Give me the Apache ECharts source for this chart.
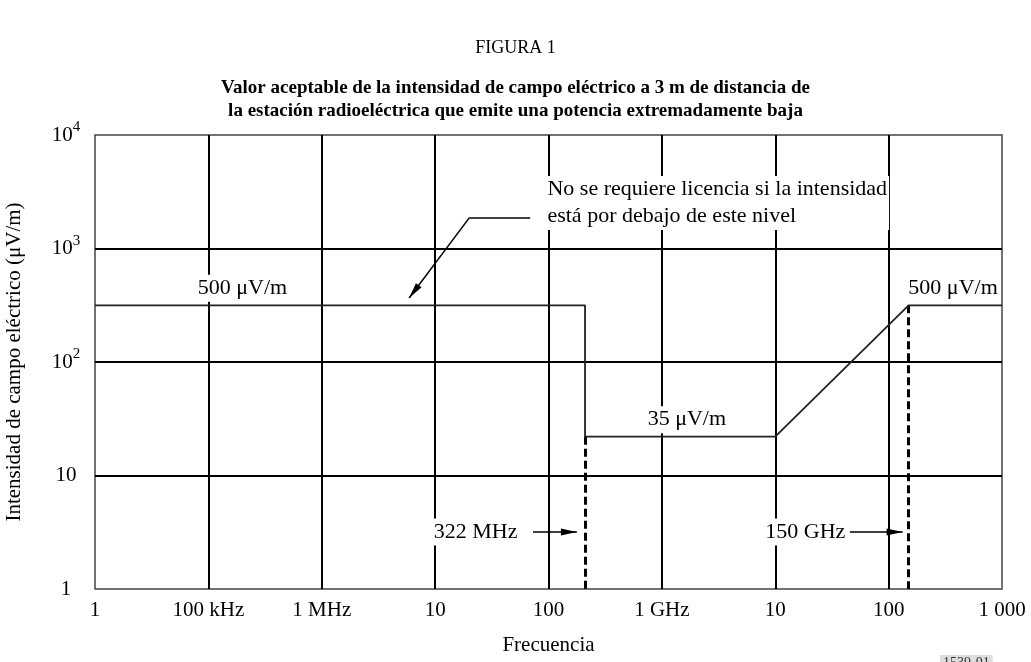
<!DOCTYPE html>
<html>
<head>
<meta charset="utf-8">
<script src="https://cdn.jsdelivr.net/npm/echarts@6/dist/echarts.min.js"></script>
<style>
html, body { margin: 0; padding: 0; background: #fff; }
#main { width: 1031px; height: 662px; }
</style>
</head>
<body>
<div id="main"></div>
<script>
var FONT = '"Liberation Serif", "Times New Roman", serif';

// limit curve: frequency (Hz) / field strength (uV/m)
var freqHz  = [1e4, 2.1e8, 2.1e8, 1e10, 1.5e11, 1e12];
var fieldUV = [316, 316, 22, 22, 316, 316];

// dashed markers down to the axis
var markFreq  = [2.1e8, 1.5e11];
var markLevel = [22, 316];

// axis ticks
var xTicks      = [1e4, 1e5, 1e6, 1e7, 1e8, 1e9, 1e10, 1e11, 1e12];
var xTickLabels = ['1', '100 kHz', '1 MHz', '10', '100', '1 GHz', '10', '100', '1 000'];
var yTicks      = [1, 10, 100, 1000, 10000];
var yTickLabels = ['1', '10', '{b|10}{s|2}', '{b|10}{s|3}', '{b|10}{s|4}'];

// texts on the plot
var noteText   = ['No se requiere licencia si la intensidad', 'está por debajo de este nivel'];
var noteLeader = [[6.9e7, 1860], [2.0e7, 1860]];
var noteArrow  = [[2.0e7, 1860], [5.9e6, 366]];
var arrow322   = [[7.3e7, 3.18], [1.78e8, 3.18]];
var arrow150   = [[4.55e10, 3.18], [1.33e11, 3.18]];

var annot = [
	{ text: '500 μV/m', f: 2.0e5,   v: 316,  pos: 'top' },
	{ text: '35 μV/m',  f: 1.66e9,  v: 22,   pos: 'top' },
	{ text: '500 μV/m', f: 3.7e11,  v: 316,  pos: 'top' },
	{ text: '322 MHz',  f: 5.6e7,   v: 3.18, pos: 'left' },
	{ text: '150 GHz',  f: 4.37e10, v: 3.18, pos: 'left' },
	{ text: noteText.join('\n'), f: 9.3e7, v: 2520, pos: 'right' }
];

// slim filled arrow head, tip at the centre of a padded square box
var ARROW = 'path://M10,10 L12.2,20 L7.8,20 Z M0,0 L0.01,0 Z M20,0 L19.99,0 Z';

var lineData = [];
for (var i = 0; i < freqHz.length; i++) {
	lineData.push([freqHz[i], fieldUV[i]]);
}

var dashData = [];
for (var i = 0; i < markFreq.length; i++) {
	dashData.push({ coords: [[markFreq[i], markLevel[i]], [markFreq[i], 1]] });
}

var annotData = annot.map(function (a) {
	return {
		value: [a.f, a.v],
		label: {
			show: true,
			position: a.pos,
			distance: a.pos == 'top' ? 3 : 0,
			formatter: a.text,
			align: a.pos == 'right' ? 'left' : (a.pos == 'left' ? 'right' : 'center'),
			lineHeight: 27
		}
	};
});

var myChart = echarts.init(document.getElementById('main'));
var option = {
	backgroundColor: '#fff',
	animation: false,
	title: [
		{ text: 'FIGURA 1', left: 'center', top: 34,
		  textStyle: { fontFamily: FONT, fontSize: 18, fontWeight: 'normal', color: '#000' } },
		{ text: 'Valor aceptable de la intensidad de campo eléctrico a 3 m de distancia de', left: 'center', top: 74,
		  textStyle: { fontFamily: FONT, fontSize: 19, fontWeight: 'bold', color: '#000' } },
		{ text: 'la estación radioeléctrica que emite una potencia extremadamente baja', left: 'center', top: 97,
		  textStyle: { fontFamily: FONT, fontSize: 19, fontWeight: 'bold', color: '#000' } }
	],
	grid: {
		left: 95, right: 29, top: 135, bottom: 73,
		outerBoundsMode: 'none', containLabel: false,
		show: true, borderColor: '#444', borderWidth: 1.5
	},
	xAxis: {
		type: 'log', logBase: 10, min: 1e4, max: 1e12, splitNumber: 8,
		name: 'Frecuencia', nameLocation: 'middle', nameGap: 46,
		nameTextStyle: { fontFamily: FONT, fontSize: 21, color: '#000' },
		axisLine: { show: false }, axisTick: { show: false },
		axisLabel: {
			fontFamily: FONT, fontSize: 21, color: '#000', margin: 11,
			showMinLabel: true, showMaxLabel: true,
			formatter: function (val) {
				var k = Math.round(Math.log10(val)) - 4;
				return xTickLabels[k] != null ? xTickLabels[k] : '';
			}
		},
		splitLine: { show: true, showMinLine: false, showMaxLine: false,
			lineStyle: { color: '#000', width: 2 } }
	},
	yAxis: {
		type: 'log', logBase: 10, min: 1, max: 10000, splitNumber: 4,
		name: 'Intensidad de campo eléctrico (μV/m)', nameLocation: 'middle', nameGap: 70,
		nameTextStyle: { fontFamily: FONT, fontSize: 21, color: '#000' },
		axisLine: { show: false }, axisTick: { show: false },
		axisLabel: {
			fontFamily: FONT, fontSize: 21, color: '#000', margin: 29, align: 'center',
			formatter: function (val) {
				var k = Math.round(Math.log10(val));
				return yTickLabels[k] != null ? yTickLabels[k] : '';
			},
			rich: {
				b: { fontFamily: FONT, fontSize: 21, color: '#000', lineHeight: 30 },
				s: { fontFamily: FONT, fontSize: 15, color: '#000', verticalAlign: 'top', lineHeight: 14 }
			}
		},
		splitLine: { show: true, showMinLine: false, showMaxLine: false,
			lineStyle: { color: '#000', width: 2 } }
	},
	series: [
		{
			type: 'line',
			data: lineData,
			symbol: 'none',
			z: 3,
			lineStyle: { color: '#222', width: 1.8 }
		},
		{
			type: 'lines',
			coordinateSystem: 'cartesian2d',
			data: dashData,
			z: 3,
			lineStyle: { color: '#000', width: 3, type: [8, 4], opacity: 1 }
		},
		{
			// leader without head
			type: 'lines',
			coordinateSystem: 'cartesian2d',
			data: [{ coords: noteLeader }],
			z: 4,
			lineStyle: { color: '#000', width: 1.5, opacity: 1 }
		},
		{
			type: 'lines',
			coordinateSystem: 'cartesian2d',
			symbol: ['none', ARROW],
			symbolSize: 32,
			data: [{ coords: noteArrow }, { coords: arrow322 }, { coords: arrow150 }],
			z: 4,
			itemStyle: { color: '#000' },
			lineStyle: { color: '#000', width: 1.5, opacity: 1 }
		},
		{
			type: 'scatter',
			data: annotData,
			symbol: 'circle',
			symbolSize: 1,
			z: 5,
			itemStyle: { color: 'rgba(0,0,0,0)', opacity: 1 },
			label: {
				fontFamily: FONT, fontSize: 22, color: '#000',
				backgroundColor: '#fff', padding: [0, 2]
			},
			emphasis: { disabled: true },
			silent: true
		}
	],
	graphic: [
		{
			type: 'text', left: 940, top: 655,
			style: { text: '1539-01', font: '14px ' + FONT, fill: '#333',
				backgroundColor: '#ddd', padding: [1, 3] }
		}
	]
};
myChart.setOption(option);
window.onresize = function () { myChart.resize(); };
</script>
</body>
</html>
